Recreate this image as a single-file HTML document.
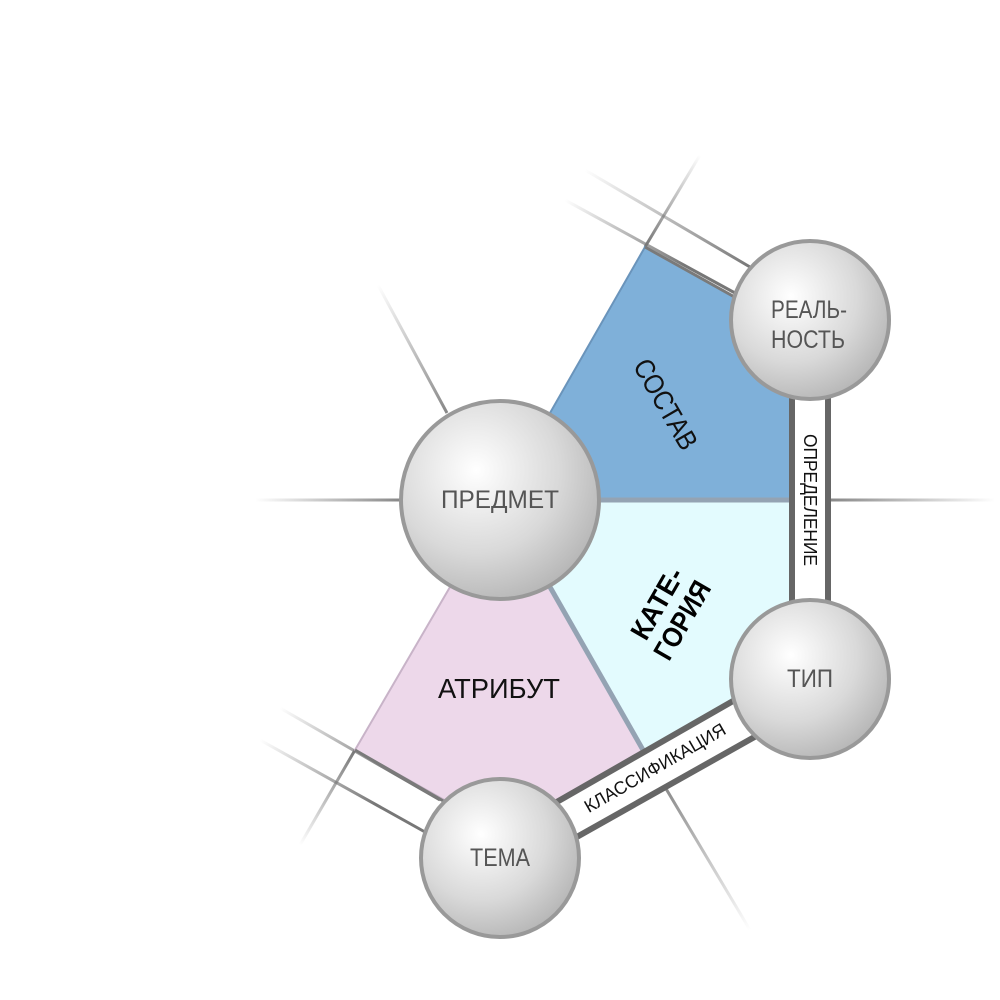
<!DOCTYPE html>
<html><head><meta charset="utf-8"><style>
html,body{margin:0;padding:0;background:#fff;width:1000px;height:1000px;overflow:hidden}
svg text{font-family:"Liberation Sans",sans-serif}
</style></head><body>
<svg width="1000" height="1000" viewBox="0 0 1000 1000" xmlns="http://www.w3.org/2000/svg">
<defs>
<radialGradient id="ball" cx="0.38" cy="0.35" r="0.7">
<stop offset="0" stop-color="#ffffff"/><stop offset="0.6" stop-color="#d9d9d9"/><stop offset="1" stop-color="#b5b5b5"/>
</radialGradient>
<linearGradient id="f1" gradientUnits="userSpaceOnUse" x1="750" y1="267" x2="585" y2="170"><stop offset="0" stop-color="#777"/><stop offset="1" stop-color="#777" stop-opacity="0"/></linearGradient>
<linearGradient id="f2" gradientUnits="userSpaceOnUse" x1="735" y1="293" x2="565" y2="200"><stop offset="0.3" stop-color="#777"/><stop offset="1" stop-color="#777" stop-opacity="0"/></linearGradient>
<linearGradient id="f3" gradientUnits="userSpaceOnUse" x1="645" y1="247" x2="700" y2="155"><stop offset="0" stop-color="#777"/><stop offset="1" stop-color="#777" stop-opacity="0"/></linearGradient>
<linearGradient id="f4" gradientUnits="userSpaceOnUse" x1="447" y1="413" x2="378" y2="285"><stop offset="0" stop-color="#888"/><stop offset="1" stop-color="#888" stop-opacity="0"/></linearGradient>
<linearGradient id="f5" gradientUnits="userSpaceOnUse" x1="400" y1="500" x2="255" y2="500"><stop offset="0" stop-color="#888"/><stop offset="1" stop-color="#888" stop-opacity="0"/></linearGradient>
<linearGradient id="f6" gradientUnits="userSpaceOnUse" x1="830" y1="500" x2="995" y2="500"><stop offset="0" stop-color="#888"/><stop offset="1" stop-color="#888" stop-opacity="0"/></linearGradient>
<linearGradient id="f7" gradientUnits="userSpaceOnUse" x1="660" y1="785" x2="750" y2="930"><stop offset="0" stop-color="#888"/><stop offset="1" stop-color="#888" stop-opacity="0"/></linearGradient>
<linearGradient id="f8" gradientUnits="userSpaceOnUse" x1="440" y1="800" x2="280" y2="708"><stop offset="0.3" stop-color="#777"/><stop offset="1" stop-color="#777" stop-opacity="0"/></linearGradient>
<linearGradient id="f9" gradientUnits="userSpaceOnUse" x1="425" y1="832" x2="260" y2="740"><stop offset="0.3" stop-color="#777"/><stop offset="1" stop-color="#777" stop-opacity="0"/></linearGradient>
<linearGradient id="f10" gradientUnits="userSpaceOnUse" x1="355" y1="750" x2="300" y2="845"><stop offset="0" stop-color="#777"/><stop offset="1" stop-color="#777" stop-opacity="0"/></linearGradient>
</defs>

<g stroke-width="3" fill="none">
<line x1="750" y1="267" x2="585" y2="170" stroke="url(#f1)"/>
<line x1="735" y1="293" x2="565" y2="200" stroke="url(#f2)"/>
<line x1="645" y1="247" x2="700" y2="155" stroke="url(#f3)"/>
<line x1="447" y1="413" x2="378" y2="285" stroke="url(#f4)"/>
<line x1="400" y1="500" x2="255" y2="500" stroke="url(#f5)"/>
<line x1="830" y1="500" x2="995" y2="500" stroke="url(#f6)"/>
<line x1="643" y1="750" x2="750" y2="930" stroke="url(#f7)"/>
<line x1="440" y1="800" x2="280" y2="708" stroke="url(#f8)"/>
<line x1="425" y1="832" x2="260" y2="740" stroke="url(#f9)"/>
<line x1="355" y1="750" x2="300" y2="845" stroke="url(#f10)"/>
</g>

<polygon points="550,413 645,247 760,312 790,395 790,500 600,500" fill="#7fb0d9" stroke="#6a94bb" stroke-width="2"/>
<polygon points="600,500 790,500 790,600 752,690 643,750 550,587" fill="#e3fbfe"/>
<polygon points="450,587 550,587 643,750 560,800 480,820 355,750" fill="#edd8ea" stroke="#c8b3c8" stroke-width="2"/>
<line x1="600" y1="500" x2="790" y2="500" stroke="#94a3b3" stroke-width="5"/>
<line x1="550" y1="587" x2="643" y2="750" stroke="#94a3b3" stroke-width="5"/>
<line x1="645" y1="247" x2="740" y2="300" stroke="#7a7a7a" stroke-width="3"/>
<line x1="355" y1="750" x2="445" y2="802" stroke="#7a7a7a" stroke-width="3"/>

<rect x="792" y="390" width="36" height="220" fill="#fff"/>
<line x1="792" y1="390" x2="792" y2="610" stroke="#666" stroke-width="6"/>
<line x1="828" y1="390" x2="828" y2="610" stroke="#666" stroke-width="6"/>
<polygon points="555,803 740,697 758,735 575,838" fill="#fff"/>
<line x1="555" y1="803" x2="740" y2="697" stroke="#666" stroke-width="6"/>
<line x1="575" y1="838" x2="758" y2="735" stroke="#666" stroke-width="6"/>

<g stroke="#999" stroke-width="4" fill="url(#ball)">
<circle cx="500" cy="500" r="99"/>
<circle cx="810" cy="320" r="79"/>
<circle cx="810" cy="679" r="79"/>
<circle cx="500" cy="858" r="79"/>
</g>

<g fill="#555" font-size="25" text-anchor="middle">
<text x="500" y="508" textLength="118" lengthAdjust="spacingAndGlyphs">ПРЕДМЕТ</text>
<text x="809" y="318" textLength="76" lengthAdjust="spacingAndGlyphs">РЕАЛЬ-</text>
<text x="808" y="348" textLength="74" lengthAdjust="spacingAndGlyphs">НОСТЬ</text>
<text x="810" y="687" textLength="46" lengthAdjust="spacingAndGlyphs">ТИП</text>
<text x="500" y="866" textLength="60" lengthAdjust="spacingAndGlyphs">ТЕМА</text>
</g>
<text x="499" y="698" font-size="28" text-anchor="middle" fill="#111" textLength="122" lengthAdjust="spacingAndGlyphs">АТРИБУТ</text>
<text transform="translate(666,404) rotate(60)" font-size="28" text-anchor="middle" fill="#111" y="10" textLength="100" lengthAdjust="spacingAndGlyphs">СОСТАВ</text>
<g transform="translate(668,612) rotate(-60)" font-size="28" font-weight="bold" text-anchor="middle" fill="#000">
<text x="2" y="-4" textLength="78" lengthAdjust="spacingAndGlyphs">КАТЕ-</text>
<text x="0" y="26" textLength="86" lengthAdjust="spacingAndGlyphs">ГОРИЯ</text>
</g>
<text transform="translate(810,500) rotate(90)" font-size="18" text-anchor="middle" fill="#111" y="6" textLength="132" lengthAdjust="spacingAndGlyphs">ОПРЕДЕЛЕНИЕ</text>
<text transform="translate(655,768) rotate(-30)" font-size="18" text-anchor="middle" fill="#111" y="6" textLength="160" lengthAdjust="spacingAndGlyphs">КЛАССИФИКАЦИЯ</text>
</svg>
</body></html>
